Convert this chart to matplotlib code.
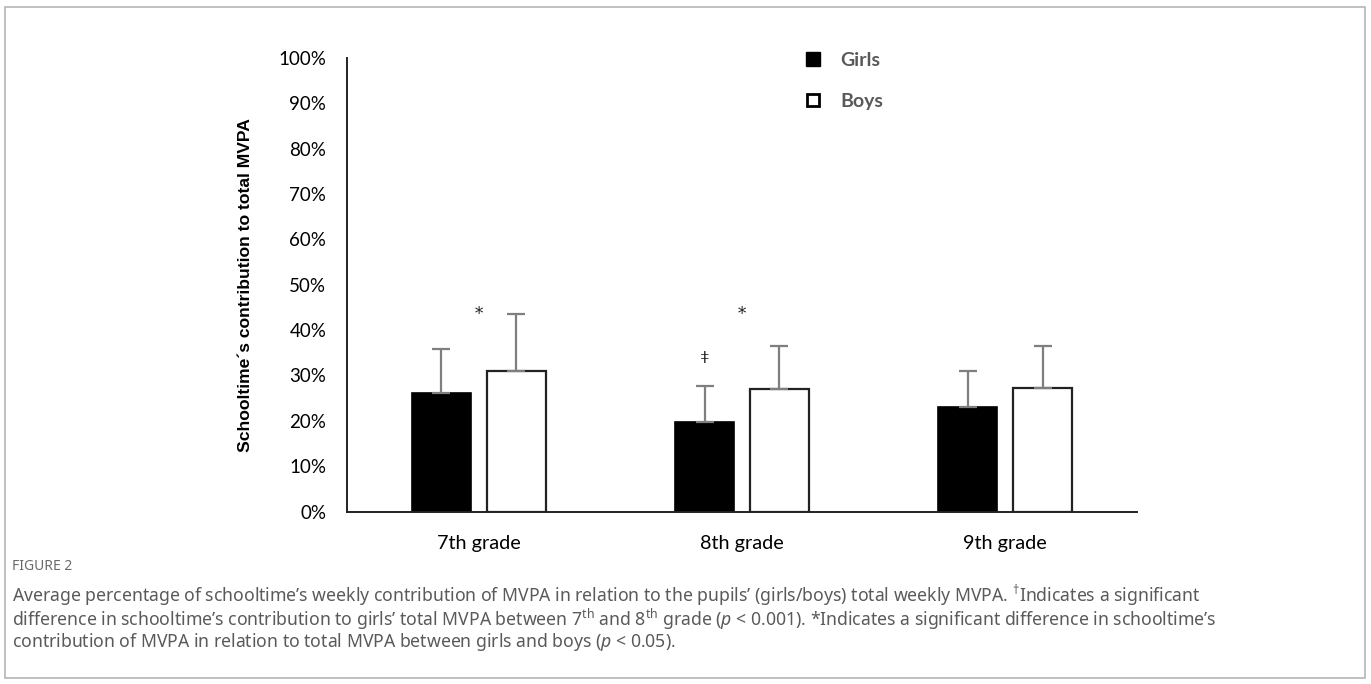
import matplotlib
matplotlib.use("Agg")
import matplotlib.pyplot as plt
from matplotlib.patches import Rectangle
import numpy as np

grades = ["7th grade", "8th grade", "9th grade"]
girls = [26.2, 19.8, 23.0]
boys = [30.9, 27.0, 27.2]
girls_sd = [9.6, 7.9, 7.9]
boys_sd = [12.6, 9.6, 9.3]
yticks = [0, 10, 20, 30, 40, 50, 60, 70, 80, 90, 100]

# significance marks: (x position, y value, symbol)
star_marks = [(0, 43.5, "*"), (1, 43.5, "*")]
dagger_marks = [(1 - 0.142, 33.8, "ǂ")]

plt.rcParams["mathtext.fontset"] = "custom"
plt.rcParams["mathtext.rm"] = "Noto Sans"
plt.rcParams["mathtext.it"] = "Noto Sans:italic"

fig = plt.figure(figsize=(13.71, 6.84), dpi=100)
fig.patches.append(Rectangle((5 / 1371, 1 - 678 / 684), 1360 / 1371, 671 / 684,
                             transform=fig.transFigure, fill=False,
                             edgecolor="#b5b5b5", linewidth=1.2))

ax = fig.add_axes([347 / 1371, 1 - 511.7 / 684, 790 / 1371, 454 / 684])
x = np.arange(len(grades))
w = 0.224
off = 0.142

ax.bar(x - off, girls, w, color="black", edgecolor="black", linewidth=1.2,
       yerr=[np.zeros(3), girls_sd], ecolor="#7f7f7f",
       error_kw=dict(capsize=6.5, elinewidth=1.6, capthick=1.6), zorder=2)
ax.bar(x + off, boys, w, color="white", edgecolor="#222222", linewidth=1.6,
       yerr=[np.zeros(3), boys_sd], ecolor="#7f7f7f",
       error_kw=dict(capsize=6.5, elinewidth=1.6, capthick=1.6), zorder=2)

for xs, ys, s in star_marks + dagger_marks:
    ax.text(xs, ys, s, ha="center", va="center", fontsize=12,
            family="DejaVu Serif", color="#222222")

ax.set_xlim(-0.5, 2.5)
ax.set_ylim(0, 100)
ax.set_yticks(yticks)
ax.set_yticklabels([f"{v}%" for v in yticks], family="Lato", fontsize=13.5)
ax.set_xticks(x)
ax.set_xticklabels(grades, family="Lato", fontsize=14.3)
ax.tick_params(axis="y", length=0, pad=15)
ax.tick_params(axis="x", length=0, pad=17)
for s in ["top", "right"]:
    ax.spines[s].set_visible(False)
for s in ["left", "bottom"]:
    ax.spines[s].set_linewidth(1.4)
    ax.spines[s].set_color("#222222")

fig.text(245 / 1371, 1 - 285 / 684, "Schooltime´s contribution to total MVPA",
         rotation=90, ha="center", va="center", family="Liberation Sans",
         fontweight="bold", fontsize=12.6)

# legend drawn as square markers with grey bold labels
fig.lines.append(plt.Line2D([813 / 1371], [1 - 59 / 684], marker="s", ms=9.5,
                            color="black", transform=fig.transFigure))
fig.lines.append(plt.Line2D([813 / 1371], [1 - 100 / 684], marker="s", ms=9,
                            mfc="white", mec="black", mew=2,
                            transform=fig.transFigure))
fig.text(840 / 1371, 1 - 61 / 684, "Girls", family="Lato", fontweight="bold",
         fontsize=14, color="#595959", va="center")
fig.text(840 / 1371, 1 - 101 / 684, "Boys", family="Lato", fontweight="bold",
         fontsize=14, color="#595959", va="center")

fig.text(12 / 1371, 1 - 566 / 684, "FIGURE 2", family="Noto Sans", fontsize=10,
         fontweight="semibold", color="#6a6a6a", va="center")
cap = [
    "Average percentage of schooltime’s weekly contribution of MVPA in relation to the pupils’ (girls/boys) total weekly MVPA. $^{†}$Indicates a significant",
    "difference in schooltime’s contribution to girls’ total MVPA between 7$^{\\rm th}$ and 8$^{\\rm th}$ grade ($\\it{p}$ < 0.001). *Indicates a significant difference in schooltime’s",
    "contribution of MVPA in relation to total MVPA between girls and boys ($\\it{p}$ < 0.05).",
]
fig.text(12 / 1371, 1 - 583 / 684, "\n".join(cap), family="Noto Sans",
         fontsize=12.7, color="#5a5a5a", va="top", linespacing=0.93)

fig.savefig("out.png", dpi=100)
